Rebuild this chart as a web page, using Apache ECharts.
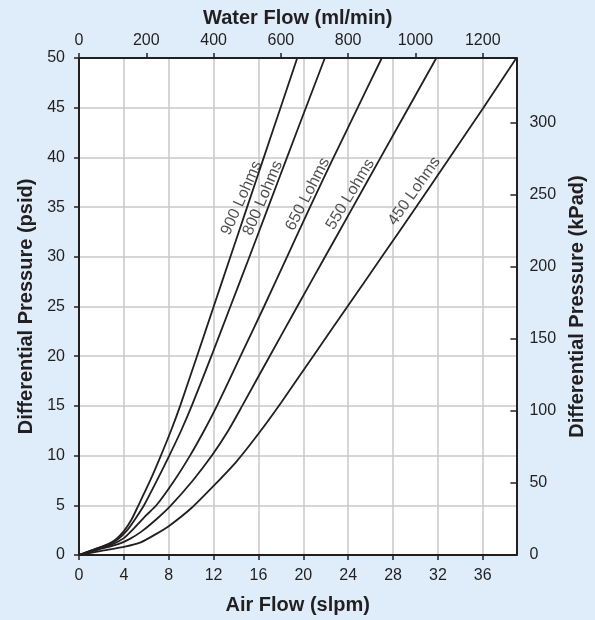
<!DOCTYPE html>
<html>
<head>
<meta charset="utf-8">
<script src="https://cdn.jsdelivr.net/npm/echarts@6/dist/echarts.min.js"></script>
<style>
  html, body { margin: 0; padding: 0; background: #deedf9; }
  #chart { width: 595px; height: 620px; }
</style>
</head>
<body>
<div id="chart"></div>
<script>
// air flow (slpm), differential pressure (psid)
const curveNames = ['900 Lohms', '800 Lohms', '650 Lohms', '550 Lohms', '450 Lohms']
const ohm900 = [[0, 0], [1.3, 0.55], [2.6, 1.1], [3.3, 1.6], [4, 2.4], [4.7, 3.6], [5.3, 5], [6.35, 7.5], [7.3, 10], [8.2, 12.5], [9.02, 15], [10.52, 20], [12.01, 25], [13.5, 30], [14.99, 35], [16.48, 40], [17.97, 45], [19.46, 50]]
const ohm800 = [[0, 0], [1.35, 0.55], [2.7, 1.1], [3.5, 1.6], [4.3, 2.5], [5.0, 3.6], [5.8, 5], [6.95, 7.5], [8.05, 10], [9.1, 12.5], [10.05, 15], [11.8, 20], [13.5, 25], [15.2, 30], [16.87, 35], [18.55, 40], [20.23, 45], [21.92, 50]]
const ohm650 = [[0, 0], [1.5, 0.55], [3.0, 1.1], [4.0, 1.7], [5.0, 2.8], [6.0, 4.0], [6.9, 5], [8.5, 7.5], [9.9, 10], [11.15, 12.5], [12.3, 15], [14.4, 20], [16.5, 25], [18.55, 30], [20.6, 35], [22.7, 40], [24.85, 45], [27.0, 50]]
const ohm550 = [[0, 0], [1.75, 0.55], [3.5, 1.1], [4.5, 1.6], [5.5, 2.3], [6.8, 3.5], [8.2, 5], [10.15, 7.5], [11.85, 10], [13.3, 12.5], [14.55, 15], [17.0, 20], [19.46, 25], [21.94, 30], [24.42, 35], [26.9, 40], [29.38, 45], [31.86, 50]]
const ohm450 = [[0, 0], [2.0, 0.42], [4.1, 0.84], [5.5, 1.27], [6.7, 2.0], [8.0, 2.9], [10.0, 4.7], [12.0, 6.95], [14.0, 9.35], [16.0, 12.2], [18.0, 15.3], [21.0, 20.2], [24.0, 25.1], [27.0, 30.0], [30.0, 34.9], [33.0, 39.9], [36.0, 44.9], [39.0, 50]]
const curves = [ohm900, ohm800, ohm650, ohm550, ohm450]

// where the curve names sit, and their tilt (deg)
const labelPoints = [[14.5, 35.9], [16.4, 35.9], [20.4, 36.3], [24.2, 36.3], [29.9, 36.6]]
const labelAngles = [66, 67, 63, 59, 55]

const airMax = 39        // slpm
const waterMax = 1300    // ml/min at airMax
const psiMax = 50
const kpaPerPsi = 6.895

const ink = '#231f20'
const gridGrey = '#c8c8c8'

const chart = echarts.init(document.getElementById('chart'))

function axisBase() {
  return {
    type: 'value',
    nameLocation: 'middle',
    nameTextStyle: { fontSize: 20, fontWeight: 'bold', color: ink },
    axisLine: { show: true, onZero: false, lineStyle: { color: ink, width: 2 } },
    axisTick: { show: true, length: 5, lineStyle: { color: ink, width: 1.5 } },
    splitLine: { show: false }
  }
}

function tickLabel(margin, hideMax) {
  return {
    fontSize: 16,
    color: ink,
    margin: margin,
    showMaxLabel: !hideMax,
    formatter: v => String(v)
  }
}

const option = {
  backgroundColor: '#deedf9',
  animation: false,
  textStyle: { fontFamily: 'Liberation Sans, Arial, sans-serif' },
  grid: {
    left: 79, top: 58, width: 438, height: 500,
    show: true, backgroundColor: '#ffffff', borderWidth: 0
  },
  xAxis: [
    Object.assign(axisBase(), {
      position: 'bottom', min: 0, max: airMax, interval: 4,
      name: 'Air Flow (slpm)', nameGap: 40,
      axisLabel: tickLabel(13, true),
      splitLine: { show: true, lineStyle: { color: gridGrey, width: 1.5 } }
    }),
    Object.assign(axisBase(), {
      position: 'top', min: 0, max: waterMax, interval: 200,
      name: 'Water Flow (ml/min)', nameGap: 28,
      axisLabel: tickLabel(9, true)
    })
  ],
  yAxis: [
    Object.assign(axisBase(), {
      position: 'left', min: 0, max: psiMax, interval: 5,
      name: 'Differential Pressure (psid)', nameGap: 43,
      axisLabel: tickLabel(14, false),
      splitLine: { show: true, lineStyle: { color: gridGrey, width: 1.5 } }
    }),
    Object.assign(axisBase(), {
      position: 'right', min: 0, max: psiMax * kpaPerPsi, interval: 50,
      name: 'Differential Pressure (kPad)', nameGap: 47,
      axisTick: { show: true, inside: true, length: 6, lineStyle: { color: ink, width: 1.5 } },
      axisLabel: tickLabel(13, true)
    })
  ],
  series: curves.map((pts, i) => ({
    name: curveNames[i],
    type: 'line',
    xAxisIndex: 0,
    yAxisIndex: 0,
    data: pts,
    smooth: 0.2,
    showSymbol: false,
    lineStyle: { color: ink, width: 1.8 },
    z: 3
  })).concat([{
    name: 'labels',
    type: 'scatter',
    xAxisIndex: 0,
    yAxisIndex: 0,
    symbolSize: 0,
    data: labelPoints.map((p, i) => ({
      value: p,
      label: { rotate: labelAngles[i], formatter: curveNames[i] }
    })),
    label: {
      show: true,
      position: 'inside',
      align: 'center',
      verticalAlign: 'middle',
      fontSize: 16,
      color: ink
    },
    z: 4
  }])
}

chart.setOption(option)
</script>
</body>
</html>
